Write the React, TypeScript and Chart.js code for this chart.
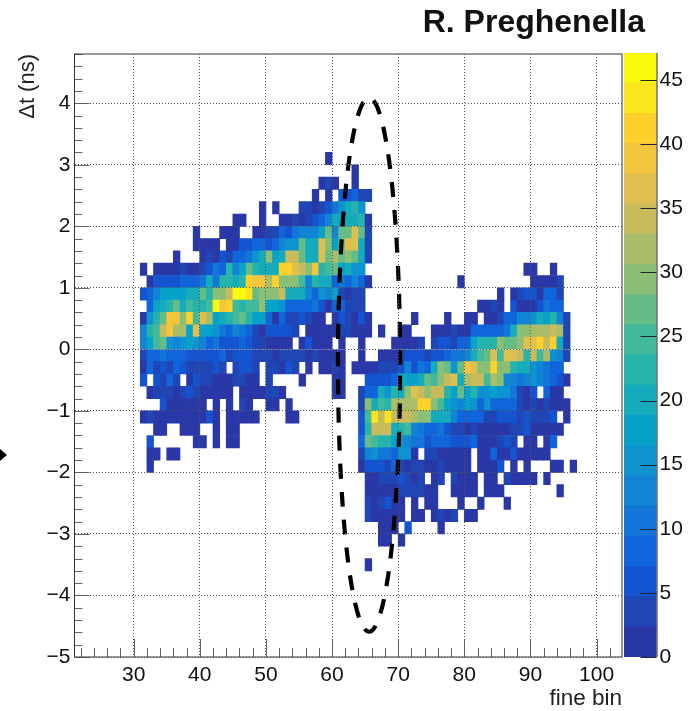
import React, { useEffect, useRef } from "react";
import { Chart, registerables } from "chart.js";

Chart.register(...registerables);

// ROOT "bird" palette: one colour per contour of the z axis
const palette = [
  "#2a37a6", "#1f46b4", "#1554d0", "#1065db", "#1275d8", "#1284d5", "#0d93cf", "#07a2ca", "#15abbc", "#25b3ac",
  "#41b99a", "#66bc87", "#8bbf75", "#aabd69", "#c9bb5c", "#dfbf4d", "#f2c53c", "#fdd02c", "#fbe61d", "#f9fb0e",
];
const zMax = 47.1;
const zStep = zMax / palette.length;
const zTicks = 5;

const firstBin = 31;
const binHeight = 0.2;

// Upper edge (ns) of each row of bins
const rowTops = [
  3.2, 3.0, 2.8, 2.6, 2.4, 2.2, 2.0, 1.8, 1.6, 1.4, 1.2, 1.0, 0.8, 0.6, 0.4, 0.2, 0.0, -0.2, -0.4, -0.6, -0.8, -1.0,
  -1.2, -1.4, -1.6, -1.8, -2.0, -2.2, -2.4, -2.6, -2.8, -3.0, -3.4,
];

// Contour level of each bin, base 20 (0-9, a-j), "." for an empty bin; columns start at firstBin
const rowLevels = [
  ".......... .......... ........0.",
  ".......... .......... .......... ..0.......",
  ".......... .......... .......010 ..0.......",
  ".......... .......... ......0.0. 22311.....",
  ".......... ........0. 0...110124 6896......",
  ".......... ....00..0. .001012358 78890.....",
  "........0. ..000..001 13245557b5 bbfb1.....",
  "........00 00.0022332 3566b88fc7 bff81.....",
  ".....0...0 102133468c 78eeb88fbd bcb81.....",
  "0.00001001 243957b988 8hhfecg9ab 7866...... .......... ........00 ..0...",
  ".022223334 849989hggd hccca59883 43530..... ........0. .........0 0001..",
  "235777788b 9ccejjibcc ce88853657 1011...... .......... ....0.0122 0331..",
  ".3789b8a99 ajgha9aac7 7633334203 3111...... .......... .0010.2000 2433..",
  "069bggchaf d789ab9773 03112100.0 21020..... .0....0..0 0.00133556 87951.",
  "59aegdd7f7 7643543102 2221.00000 11000.0..0 0...000100 3333348ccd dded1.",
  "57ab656765 3422232110 000.02000. 0..0....00 001.122133 7999cbbcff heh81.",
  "1334333222 2231222111 0111101000 0..0..0001 2221223445 8abfaffe9e ad651.",
  "0312132111 121.1221.1 1021.0.001 0.00001112 52438cb6bg fcchcc9886 5433..",
  "2.2131.021 10001100.1 ....0....0 0...222238 778bacef8d eeadc55456 54320.",
  ".011101210 0000.00001 10.......0 0..1338698 cfecee97b7 9667664102 .300..",
  "...2000000 .0.0.10..0 0.0....... ...1c8a9dd ddhhca7657 6363333101 01000.",
  "0100000000 20.00000.. ..00...... ...2aieiee edcc888533 3311222121 112.0.",
  "..00..000. .0.00..... .......... ...29eee89 a543342110 1000001120 0000..",
  ".2......00 .0.00..... .......... ...3ba9976 5442333222 3000121.00 .03...",
  ".00.00.... .......... .......... ...1564436 60.1100000 .003002000 00....",
  ".0........ .......... .......... ...0222131 0110010000 .0002.0.0. ..00.0",
  ".......... .......... .......... ....001112 101.01.100 0.00.10000 .0....",
  ".......... .......... .......... ....000001 11100..000 0.000..... ...0..",
  ".......... .......... .......... ....101200 .0.00...0. .0...0....",
  ".......... .......... .......... ....100000 .00.0101.0 0.........",
  ".......... .......... .......... ......000. 2....0....",
  ".......... .......... .......... ......00.0",
  ".......... .......... .......... ....0.....",
];

const xRange = [21.05, 103.85];
const yRange = [-5, 4.8];
const xMajor = 10;
const xMinor = 2;
const yMajor = 1;
const yMinor = 0.2;

// Hand-drawn dashed ellipse, in axis units
const ellipseCentre = [65.6, -0.25];
const ellipseRadii = [4.7, 4.34];

const cells = rowLevels.flatMap((row, r) =>
  row
    .replace(/ /g, "")
    .split("")
    .flatMap((ch, c) =>
      ch === "."
        ? []
        : [{ x: firstBin + c + 0.5, y: [rowTops[r] - binHeight, rowTops[r]], z: (parseInt(ch, 20) + 0.5) * zStep }]
    )
);

const FONT = "'Liberation Sans', Arial, sans-serif";
const range = (lo: number, hi: number, step: number) => {
  const out: number[] = [];
  const n = Math.round((hi - lo) / step);
  for (let i = 0; i <= n; i++) out.push(lo + i * step);
  return out;
};

const framePlugin = {
  id: "frame",
  afterDatasetsDraw(chart: any) {
    const { ctx, chartArea: a, scales } = chart;
    const { x, y } = scales;
    ctx.save();
    ctx.beginPath();
    ctx.rect(a.left, a.top, a.right - a.left, a.bottom - a.top);
    ctx.clip();
    ctx.beginPath();
    ctx.setLineDash([15, 13]);
    ctx.lineDashOffset = 17;
    ctx.lineWidth = 4.2;
    ctx.strokeStyle = "#000";
    ctx.ellipse(
      x.getPixelForValue(ellipseCentre[0]),
      y.getPixelForValue(ellipseCentre[1]),
      Math.abs(x.getPixelForValue(ellipseCentre[0] + ellipseRadii[0]) - x.getPixelForValue(ellipseCentre[0])),
      Math.abs(y.getPixelForValue(ellipseCentre[1] + ellipseRadii[1]) - y.getPixelForValue(ellipseCentre[1])),
      0,
      0,
      Math.PI * 2
    );
    ctx.stroke();
    ctx.restore();

    ctx.save();
    ctx.setLineDash([]);
    ctx.lineWidth = 1;
    ctx.strokeStyle = "#666";
    ctx.beginPath();
    for (const v of range(22, 102, xMinor)) {
      const px = Math.round(x.getPixelForValue(v)) + 0.5;
      ctx.moveTo(px, a.bottom);
      ctx.lineTo(px, a.bottom - (v % xMajor === 0 ? 18 : 9));
    }
    for (const v of range(yRange[0], 4.8, yMinor)) {
      const py = Math.round(y.getPixelForValue(v)) + 0.5;
      const isMajor = Math.abs(v / yMajor - Math.round(v / yMajor)) < 1e-6;
      ctx.moveTo(a.left, py);
      ctx.lineTo(a.left + (isMajor ? 15 : 8), py);
    }
    ctx.stroke();
    ctx.strokeStyle = "#333";
    ctx.strokeRect(a.left, a.top, a.right - a.left, a.bottom - a.top);
    ctx.restore();
  },
};

const barTickPlugin = {
  id: "barTicks",
  afterDatasetsDraw(chart: any) {
    const { ctx, chartArea: a, scales } = chart;
    ctx.save();
    ctx.lineWidth = 1;
    ctx.strokeStyle = "#223";
    ctx.beginPath();
    for (const v of range(0, 45, zTicks)) {
      const py = Math.round(scales.y.getPixelForValue(v)) + 0.5;
      ctx.moveTo(a.right, py);
      ctx.lineTo(a.right - 16, py);
    }
    ctx.moveTo(a.right + 0.5, a.top);
    ctx.lineTo(a.right + 0.5, a.bottom);
    ctx.stroke();
    ctx.restore();
  },
};

export default function App() {
  const mainRef = useRef<HTMLCanvasElement>(null);
  const barRef = useRef<HTMLCanvasElement>(null);

  useEffect(() => {
    const gridLine = { color: "#555", lineWidth: 1, z: 1, drawTicks: false };
    const dotted = { display: false, dash: [1, 2] };
    const main = new Chart(mainRef.current!, {
      type: "bar",
      data: {
        datasets: [
          {
            data: cells as any,
            backgroundColor: (c: any) => palette[Math.min(palette.length - 1, Math.floor((c.raw?.z ?? 0) / zStep))],
            barThickness: 6.61,
            borderWidth: 0,
            inflateAmount: 0.35,
            grouped: false,
          } as any,
        ],
      },
      plugins: [framePlugin],
      options: {
        responsive: false,
        animation: false,
        events: [],
        layout: { padding: { top: 54, right: 74, left: 0, bottom: 0 } },
        plugins: { legend: { display: false }, tooltip: { enabled: false }, title: { display: false } },
        scales: {
          x: {
            type: "linear",
            offset: false,
            min: xRange[0],
            max: xRange[1],
            grid: { ...gridLine, offset: false },
            border: dotted,
            afterFit: (s: any) => {
              s.height = 54;
            },
            ticks: {
              stepSize: xMajor,
              includeBounds: false,
              autoSkip: false,
              maxRotation: 0,
              padding: 6,
              color: "#111",
              font: { family: FONT, size: 21 },
              callback: (v: any) => String(v),
            },
            title: {
              display: true,
              text: "fine bin",
              align: "end",
              color: "#222",
              font: { family: FONT, size: 22.5, lineHeight: 1.1 },
              padding: { top: 0, bottom: 0 },
            },
          },
          y: {
            type: "linear",
            min: yRange[0],
            max: yRange[1],
            grid: gridLine,
            border: dotted,
            afterFit: (s: any) => {
              s.width = 74.5;
            },
            ticks: {
              stepSize: yMajor,
              includeBounds: false,
              autoSkip: false,
              padding: 4,
              color: "#111",
              font: { family: FONT, size: 21 },
              callback: (v: any) => String(v).replace("-", "\u2212"),
            },
            title: {
              display: true,
              text: "\u0394t (ns)",
              align: "end",
              color: "#222",
              font: { family: FONT, size: 22, lineHeight: 1.2 },
              padding: { top: 15, bottom: 0 },
            },
          },
        },
      } as any,
    });

    const bar = new Chart(barRef.current!, {
      type: "bar",
      data: {
        labels: ["z"],
        datasets: palette.map((color, k) => ({
          data: [[k * zStep, (k + 1) * zStep]] as any,
          backgroundColor: color,
          borderWidth: 0,
          inflateAmount: 0.4,
          grouped: false,
          categoryPercentage: 1,
          barPercentage: 1,
        })) as any,
      },
      plugins: [barTickPlugin],
      options: {
        responsive: false,
        animation: false,
        events: [],
        layout: { padding: { top: 53, left: 4, right: 0, bottom: 54 } },
        plugins: { legend: { display: false }, tooltip: { enabled: false } },
        scales: {
          x: { display: false },
          y: {
            position: "right",
            min: 0,
            max: zMax,
            grid: { display: false, drawTicks: false },
            border: { display: false },
            afterFit: (s: any) => {
              s.width = 39.5;
            },
            ticks: {
              stepSize: zTicks,
              includeBounds: false,
              autoSkip: false,
              padding: 3,
              color: "#111",
              font: { family: FONT, size: 21 },
            },
          },
        },
      } as any,
    });

    return () => {
      main.destroy();
      bar.destroy();
    };
  }, []);

  return (
    <div style={{ position: "absolute", left: 0, top: 0, width: 696, height: 711, overflow: "hidden", background: "#fff" }}>
      <canvas ref={mainRef} width={696} height={711} style={{ position: "absolute", left: 0, top: 0 }} />
      <canvas ref={barRef} width={76} height={711} style={{ position: "absolute", left: 620, top: 0 }} />
      <div
        style={{
          position: "absolute",
          right: 51,
          top: 3,
          font: `bold 32px ${FONT}`,
          color: "#111",
          whiteSpace: "nowrap",
        }}
      >
        R. Preghenella
      </div>
      <div
        style={{
          position: "absolute",
          left: 0,
          top: 449,
          width: 7,
          height: 12,
          background: "#000",
          clipPath: "polygon(0 0, 100% 50%, 0 100%)",
        }}
      />
    </div>
  );
}
